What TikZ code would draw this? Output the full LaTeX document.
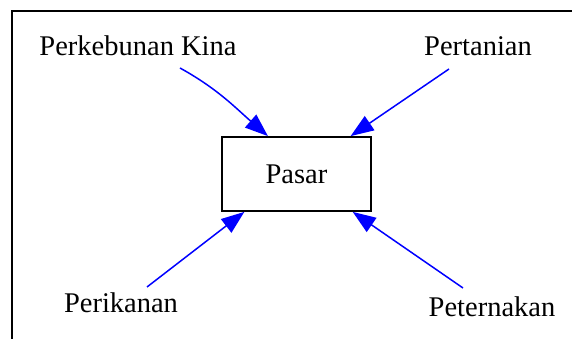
\documentclass[tikz,border=0pt]{standalone}
\usepackage{fontspec}
\setmainfont{Liberation Serif}
\usetikzlibrary{arrows.meta,calc}

\begin{document}
\begin{tikzpicture}[x=1pt, y=1pt,
    font=\fontsize{28.5pt}{34pt}\selectfont,
    lbl/.style={anchor=base, inner sep=0pt},
    box/.style={draw, line width=1.8pt, minimum width=149pt, minimum height=74pt, inner sep=0pt},
    link/.style={-{Triangle[length=23pt,width=17pt]}, draw=blue, line width=1.5pt}]
  \useasboundingbox (0,0) rectangle (572,339);

  % Frame along the top and left
  \draw[line width=1.5pt] (12,-2) -- (12,328) -- (574,328);

  % Market in the middle
  \node[box] (pasar) at (296.5,165) {Pasar};

  % Sources around it
  \node[lbl] (kina)   at (138,283) {Perkebunan Kina};
  \node[lbl] (tani)   at (478,283) {Pertanian};
  \node[lbl] (ikan)   at (121,26)  {Perikanan};
  \node[lbl] (ternak) at (492,22)  {Peternakan};

  % Draw arrows into the market
  \draw[link] ($(kina.base)+(42,-12)$) to[out=-29, in=139] (pasar.127.6);
  \draw[link] ($(tani.base)+(-29,-13)$) -- (pasar.35.2);
  \draw[link] ($(ikan.base)+(26,26)$) -- (pasar.-144.3);
  \draw[link] ($(ternak.base)+(-29,29)$) -- (pasar.-34.2);
\end{tikzpicture}
\end{document}
